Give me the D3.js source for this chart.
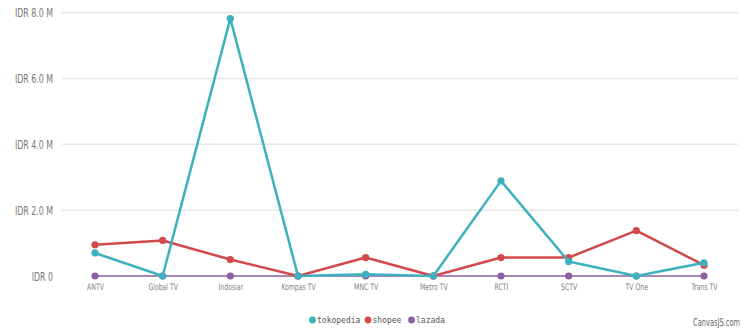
<!DOCTYPE html>
<html><head><meta charset="utf-8">
<script src="https://cdn.jsdelivr.net/npm/d3@7"></script>
<style>
body{margin:0;background:#fff;}
svg{display:block;}
</style></head>
<body><svg id="c" width="743" height="331"></svg>
<script>
const categories = ["ANTV","Global TV","Indosiar","Kompas TV","MNC TV","Metro TV","RCTI","SCTV","TV One","Trans TV"];
const tokopedia = [0.70, 0.0, 7.82, 0.0, 0.05, 0.0, 2.89, 0.44, 0.0, 0.40];
const shopee    = [0.95, 1.08, 0.50, 0.0, 0.56, 0.0, 0.56, 0.56, 1.38, 0.33];
const lazada    = [0, 0, 0, 0, 0, 0, 0, 0, 0, 0];
const yTicks = [0, 2, 4, 6, 8];
const seriesNames = ["tokopedia","shopee","lazada"];
const seriesColors = ["#3eb1bf","#d2494b","#8b5fa0"];

(function(){
const svg = d3.select("#c");
const plotLeft = 62, plotRight = 738, plotTop = 12.7, plotBottom = 276;
const x = d3.scalePoint().domain(categories).range([95, 704]);
const y = d3.scaleLinear().domain([0, 8]).range([plotBottom, plotTop]);
const condensed = "'DejaVu Sans Condensed',sans-serif";

// grid
svg.append("g").selectAll("line").data(yTicks.filter(d=>d>0)).join("line")
  .attr("x1", plotLeft).attr("x2", plotRight)
  .attr("y1", d=>y(d)).attr("y2", d=>y(d))
  .attr("stroke", "#e6e6e6").attr("stroke-width", 1.5);

// y labels
const yAxis = d3.axisLeft(y).tickValues(yTicks).tickSize(0).tickPadding(0)
  .tickFormat(d => d === 0 ? "IDR 0" : "IDR " + d.toFixed(1) + " M");
const ya = svg.append("g").attr("transform", `translate(53,0)`).call(yAxis);
ya.select(".domain").remove();
ya.selectAll("text").attr("font-family", condensed).attr("font-size", 11.5)
  .attr("fill", "#777").attr("dy", "0.35em").attr("transform", "scale(0.76,1)");

// x labels
const xAxis = d3.axisBottom(x).tickSize(0).tickPadding(0);
const xa = svg.append("g").attr("transform", `translate(0,284)`).call(xAxis);
xa.select(".domain").remove();
xa.selectAll("text").attr("font-family", condensed).attr("font-size", 9)
  .attr("fill", "#808080").attr("dy", "0.7em").attr("transform", "scale(0.76,1)");

// series
const data = [tokopedia, shopee, lazada];
const line = d3.line().x((d,i)=>x(categories[i])).y(d=>y(d));
[2, 1, 0].forEach(si => {
  const g = svg.append("g");
  g.append("path").datum(data[si]).attr("d", line)
    .attr("fill", "none").attr("stroke", seriesColors[si])
    .attr("stroke-width", si === 2 ? 2 : 2.5).attr("stroke-linejoin", "round")
    .attr("opacity", si === 2 ? 0.75 : 1);
  g.selectAll("circle").data(data[si]).join("circle")
    .attr("cx", (d,i)=>x(categories[i])).attr("cy", d=>y(d))
    .attr("r", 3.6).attr("fill", seriesColors[si]);
});

// legend
const legendX = [312.5, 368, 411.5];
const lg = svg.append("g");
seriesNames.forEach((n, i) => {
  lg.append("circle").attr("cx", legendX[i]).attr("cy", 320).attr("r", 3.4).attr("fill", seriesColors[i]);
  lg.append("text").attr("x", legendX[i] + 4.5).attr("y", 320).attr("dy", "0.35em")
    .attr("font-family", "'DejaVu Sans Mono',monospace").attr("font-size", 8)
    .attr("fill", "#555").text(n);
});

// credit
svg.append("g").attr("transform", "translate(740,322) scale(0.74,1)")
  .append("text").attr("dy", "0.35em").attr("text-anchor", "end")
  .attr("font-family", condensed).attr("font-size", 10).attr("fill", "#666").text("CanvasJS.com");
})();
</script>
</body></html>
